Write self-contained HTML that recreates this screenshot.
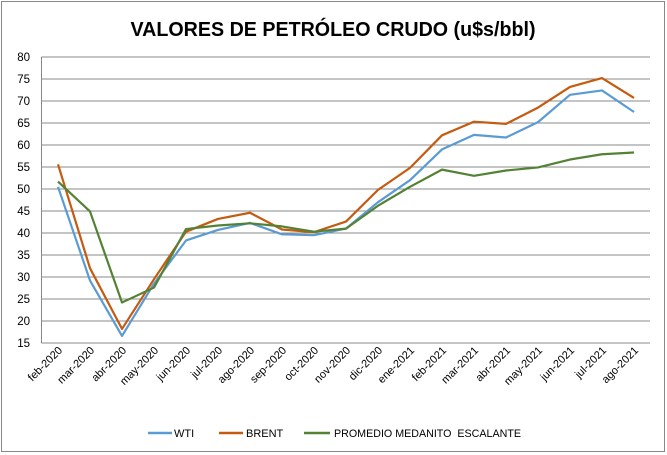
<!DOCTYPE html>
<html><head><meta charset="utf-8"><style>
html,body{margin:0;padding:0;background:#fff}
svg{display:block;font-family:"Liberation Sans",sans-serif}
</style></head><body>
<svg id="s" width="667" height="455" viewBox="0 0 667 455" xmlns="http://www.w3.org/2000/svg">
<rect x="1.5" y="1.5" width="663" height="450" fill="#fff" stroke="#888" stroke-width="1"/>
<text x="333" y="36" text-anchor="middle" font-size="20" font-weight="bold" fill="#000" textLength="405" lengthAdjust="spacingAndGlyphs">VALORES DE PETRÓLEO CRUDO (u$s/bbl)</text>
<g id="grid"></g>
<g id="lines"></g>
<g font-size="11" fill="#000">
<line x1="148" y1="433" x2="172" y2="433" stroke="#5b9bd5" stroke-width="2.5"/>
<text x="174" y="437">WTI</text>
<line x1="219" y1="433" x2="243" y2="433" stroke="#c55a11" stroke-width="2.5"/>
<text x="246" y="437">BRENT</text>
<line x1="304" y1="433" x2="330" y2="433" stroke="#548235" stroke-width="2.5"/>
<text x="334" y="437" textLength="187" lengthAdjust="spacingAndGlyphs">PROMEDIO MEDANITO&#160; ESCALANTE</text>
</g>
</svg>
<script>
var ns="http://www.w3.org/2000/svg",g=document.getElementById("grid"),L=document.getElementById("lines");
function el(t,a,p,txt){var e=document.createElementNS(ns,t);for(var k in a)e.setAttribute(k,a[k]);if(txt)e.textContent=txt;p.appendChild(e);return e;}
function Y(v){return 343-(v-15)*4.4;}
for(var v=15;v<=80;v+=5){var y=Y(v);el("line",{x1:41.5,x2:650,y1:y,y2:y,stroke:"#888","stroke-width":1},g);
el("text",{x:30,y:y+4,"text-anchor":"end","font-size":11.5},g,String(v));}
el("line",{x1:41.5,x2:41.5,y1:Y(80),y2:Y(15),stroke:"#888"},g);
var labs="feb-2020 mar-2020 abr-2020 may-2020 jun-2020 jul-2020 ago-2020 sep-2020 oct-2020 nov-2020 dic-2020 ene-2021 feb-2021 mar-2021 abr-2021 may-2021 jun-2021 jul-2021 ago-2021".split(" ");
function X(i){return 58+i*32;}
labs.forEach(function(l,i){var x=X(i)+5,y=351;el("text",{x:x,y:y,"text-anchor":"end","font-size":11,transform:"rotate(-45 "+x+" "+y+")"},g,l);});
var d={
"#5b9bd5":[50.5,29.2,16.6,28.5,38.3,40.7,42.3,39.7,39.5,41,47,52,59,62.3,61.7,65.2,71.4,72.4,67.5],
"#c55a11":[55.6,32,18.2,29.5,40.3,43.2,44.6,40.8,40.2,42.6,49.8,54.8,62.2,65.3,64.8,68.5,73.2,75.2,70.7],
"#548235":[51.7,44.9,24.2,27.6,40.9,41.7,42.2,41.5,40.3,41,46.2,50.5,54.4,53,54.2,54.9,56.7,57.9,58.3]};
for(var c in d){el("polyline",{points:d[c].map(function(v,i){return X(i)+","+Y(v);}).join(" "),fill:"none",stroke:c,"stroke-width":2.2,"stroke-linejoin":"round"},L);}
</script>
</body></html>
